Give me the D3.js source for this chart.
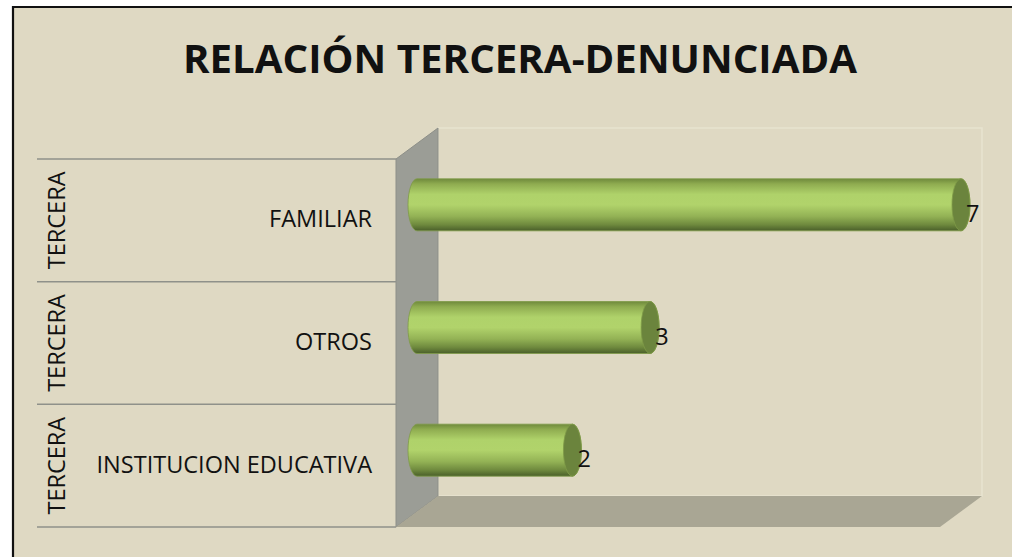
<!DOCTYPE html>
<html>
<head>
<meta charset="utf-8">
<script src="https://cdn.jsdelivr.net/npm/d3@7"></script>
<style>
  html, body { margin: 0; padding: 0; background: #ffffff; overflow: hidden; }
  svg { display: block; }
</style>
</head>
<body>
<svg id="chart" width="1012" height="557"></svg>
<script>
// ---- data ----
const title = "RELACIÓN TERCERA-DENUNCIADA";
const groupLabels = ["TERCERA", "TERCERA", "TERCERA"];
const categories = ["FAMILIAR", "OTROS", "INSTITUCION EDUCATIVA"];
const values = [7, 3, 2];
const xDomain = [0, 7];

// ---- layout ----
const W = 1012, H = 557;
const svg = d3.select("#chart");
const font = "'Open Sans', 'DejaVu Sans', sans-serif";

// chart area background + border (only left & top edges are visible)
svg.append("rect").attr("x", 13).attr("y", 7).attr("width", W - 13).attr("height", H - 7)
  .attr("fill", "#dfd9c3");
svg.append("path").attr("d", `M13,${H} L13,7 L${W},7`)
  .attr("fill", "none").attr("stroke", "#111").attr("stroke-width", 2.2);

const plot = { left: 396, right: 940, top: 159, bottom: 527 };
const depth = { dx: 42, dy: -31 };

const x = d3.scaleLinear().domain(xDomain).range([plot.left, plot.right]);
const y = d3.scaleBand().domain(categories).range([plot.top, plot.bottom]).paddingInner(0).paddingOuter(0);

// back wall
svg.append("rect")
  .attr("x", plot.left + depth.dx).attr("y", plot.top + depth.dy)
  .attr("width", plot.right - plot.left).attr("height", plot.bottom - plot.top)
  .attr("fill", "#dfd9c3").attr("stroke", "#e8e3d0").attr("stroke-width", 1.5);

// side wall
svg.append("polygon")
  .attr("points", [
    [plot.left, plot.top],
    [plot.left + depth.dx, plot.top + depth.dy],
    [plot.left + depth.dx, plot.bottom + depth.dy],
    [plot.left, plot.bottom]
  ].map(p => p.join(",")).join(" "))
  .attr("fill", "#9b9d96").attr("stroke", "#8d8f88").attr("stroke-width", 1);

// floor
svg.append("polygon")
  .attr("points", [
    [plot.left, plot.bottom],
    [plot.left + depth.dx, plot.bottom + depth.dy],
    [plot.right + depth.dx, plot.bottom + depth.dy],
    [plot.right, plot.bottom]
  ].map(p => p.join(",")).join(" "))
  .attr("fill", "#a9a694");

// category band lines
const bandEdges = categories.map(c => y(c)).concat([plot.bottom]);
svg.selectAll("line.band").data(bandEdges).enter().append("line")
  .attr("class", "band")
  .attr("x1", 37).attr("x2", plot.left)
  .attr("y1", d => d).attr("y2", d => d)
  .attr("stroke", "#8f918a").attr("stroke-width", 1.5);

// category labels
svg.selectAll("text.cat").data(categories).enter().append("text")
  .attr("class", "cat")
  .attr("x", 372)
  .attr("y", d => y(d) + y.bandwidth() / 2 + 7)
  .attr("text-anchor", "end")
  .attr("font-family", font).attr("font-size", 23.5)
  .attr("fill", "#111")
  .text(d => d);

// group labels (rotated)
svg.selectAll("text.grp").data(categories).enter().append("text")
  .attr("class", "grp")
  .attr("transform", (d, i) => `translate(65,${y(d) + y.bandwidth() / 2}) rotate(-90)`)
  .attr("text-anchor", "middle")
  .attr("font-family", font).attr("font-size", 23.5)
  .attr("fill", "#111")
  .text((d, i) => groupLabels[i]);

// gradient for cylinders
const defs = svg.append("defs");
const grad = defs.append("linearGradient").attr("id", "cyl").attr("x1", 0).attr("y1", 0).attr("x2", 0).attr("y2", 1);
[
  [0, "#6f8a3c"], [0.1, "#8fac50"], [0.3, "#afd26a"], [0.5, "#b1d36b"],
  [0.72, "#93b255"], [0.88, "#6f8a3e"], [1, "#4a5f2a"]
].forEach(([o, c]) => grad.append("stop").attr("offset", o).attr("stop-color", c));

const ry = 26, rx = 9;
const bars = svg.selectAll("g.bar").data(categories.map((c, i) => ({ c, v: values[i] })))
  .enter().append("g").attr("class", "bar");

bars.append("path")
  .attr("d", d => {
    const cy = y(d.c) + y.bandwidth() / 2 + depth.dy / 2;
    const x0 = x(0) + depth.dx / 2;
    const x1 = x(d.v) + depth.dx / 2;
    return `M${x0},${cy - ry} L${x1},${cy - ry} A${rx},${ry} 0 0 1 ${x1},${cy + ry} L${x0},${cy + ry} A${rx},${ry} 0 0 1 ${x0},${cy - ry} Z`;
  })
  .attr("fill", "url(#cyl)")
  .attr("stroke", "#7f9a48").attr("stroke-width", 0.8);

bars.append("ellipse")
  .attr("cx", d => x(d.v) + depth.dx / 2)
  .attr("cy", d => y(d.c) + y.bandwidth() / 2 + depth.dy / 2)
  .attr("rx", rx).attr("ry", ry)
  .attr("fill", "#6b843d").attr("stroke", "#7f9a48").attr("stroke-width", 0.8);

bars.append("text")
  .attr("x", d => x(d.v) + depth.dx / 2 + 5)
  .attr("y", d => y(d.c) + y.bandwidth() / 2 + depth.dy / 2 + 17)
  .attr("font-family", font).attr("font-size", 23.5)
  .attr("fill", "#111")
  .text(d => d.v);

// title
svg.append("text")
  .attr("x", 520).attr("y", 73)
  .attr("text-anchor", "middle")
  .attr("font-family", font).attr("font-weight", "bold").attr("font-size", 39)
  .attr("textLength", 674).attr("lengthAdjust", "spacingAndGlyphs")
  .attr("fill", "#111")
  .text(title);
</script>
</body>
</html>
